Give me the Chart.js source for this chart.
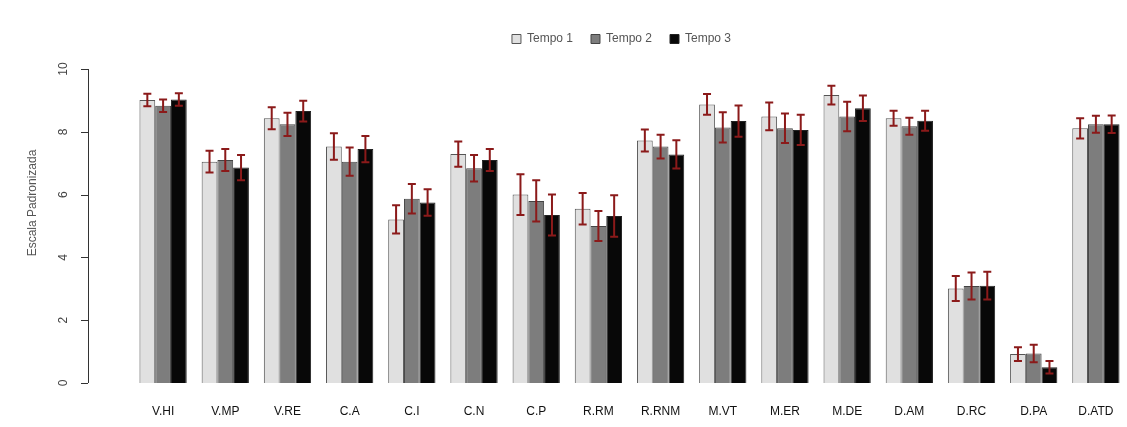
<!DOCTYPE html>
<html>
<head>
<meta charset="utf-8">
<script src="https://cdn.jsdelivr.net/npm/chart.js@4/dist/chart.umd.min.js"></script>
<style>
  html, body { margin: 0; padding: 0; background: #fff; }
  #wrap { position: relative; width: 1127px; height: 427px; }
</style>
</head>
<body>
<div id="wrap"><canvas id="c"></canvas></div>
<script>
const categories = ['V.HI', 'V.MP', 'V.RE', 'C.A', 'C.I', 'C.N', 'C.P', 'R.RM', 'R.RNM',
  'M.VT', 'M.ER', 'M.DE', 'D.AM', 'D.RC', 'D.PA', 'D.ATD'];

const tempo1 = [9.01, 7.05, 8.43, 7.53, 5.21, 7.29, 6.00, 5.55, 7.72, 8.87, 8.49, 9.17, 8.43, 3.01, 0.92, 8.11];
const tempo2 = [8.83, 7.10, 8.24, 7.05, 5.87, 6.84, 5.80, 5.00, 7.53, 8.14, 8.11, 8.49, 8.18, 3.09, 0.94, 8.24];
const tempo3 = [9.03, 6.86, 8.66, 7.45, 5.75, 7.10, 5.35, 5.32, 7.28, 8.34, 8.06, 8.75, 8.35, 3.10, 0.50, 8.24];

// half-length of the error bars
const err1 = [0.20, 0.35, 0.35, 0.42, 0.45, 0.40, 0.65, 0.50, 0.35, 0.33, 0.44, 0.30, 0.24, 0.40, 0.22, 0.32];
const err2 = [0.20, 0.35, 0.37, 0.45, 0.47, 0.42, 0.66, 0.48, 0.38, 0.48, 0.47, 0.47, 0.27, 0.43, 0.28, 0.27];
const err3 = [0.20, 0.40, 0.33, 0.42, 0.42, 0.35, 0.65, 0.66, 0.45, 0.50, 0.48, 0.41, 0.32, 0.44, 0.20, 0.28];

const yTicks = [0, 2, 4, 6, 8, 10];
const errors = [err1, err2, err3];
const FONT = '"Liberation Sans", Arial, sans-serif';

const errorBars = {
  id: 'errorBars',
  afterDatasetsDraw(chart) {
    const ctx = chart.ctx;
    const y = chart.scales.y;
    ctx.save();
    ctx.strokeStyle = '#8b1a1a';
    ctx.lineWidth = 2;
    chart.data.datasets.forEach((ds, i) => {
      const meta = chart.getDatasetMeta(i);
      meta.data.forEach((bar, j) => {
        const v = ds.data[j], e = errors[i][j];
        const top = y.getPixelForValue(v + e);
        const bot = y.getPixelForValue(v - e);
        ctx.beginPath();
        ctx.moveTo(bar.x, top); ctx.lineTo(bar.x, bot);
        ctx.moveTo(bar.x - 4, top); ctx.lineTo(bar.x + 4, top);
        ctx.moveTo(bar.x - 4, bot); ctx.lineTo(bar.x + 4, bot);
        ctx.stroke();
      });
    });
    ctx.restore();
  }
};

// legend: extra space below it and shifted right like the R legend
const legendTweak = {
  id: 'legendTweak',
  afterInit(chart) {
    const lg = chart.legend;
    const fit = lg.fit.bind(lg);
    lg.fit = function () { fit(); this.height += 14; };
  },
  afterLayout(chart) {
    chart.legend.left += 58;
    chart.legend.right += 58;
  }
};

// R style detached y axis with rotated labels
const rAxis = {
  id: 'rAxis',
  afterDraw(chart) {
    const ctx = chart.ctx;
    const y = chart.scales.y;
    const ax = 88;
    ctx.save();
    ctx.strokeStyle = '#333';
    ctx.lineWidth = 1;
    ctx.beginPath();
    ctx.moveTo(ax + 0.5, y.getPixelForValue(0));
    ctx.lineTo(ax + 0.5, y.getPixelForValue(10));
    yTicks.forEach(t => {
      const py = Math.round(y.getPixelForValue(t)) + 0.5;
      ctx.moveTo(ax, py); ctx.lineTo(ax - 7, py);
    });
    ctx.stroke();
    ctx.fillStyle = '#444';
    ctx.font = '12px ' + FONT;
    ctx.textAlign = 'center';
    ctx.textBaseline = 'middle';
    yTicks.forEach(t => {
      ctx.save();
      ctx.translate(64, y.getPixelForValue(t));
      ctx.rotate(-Math.PI / 2);
      ctx.fillText(String(t), 0, 0);
      ctx.restore();
    });
    ctx.save();
    ctx.fillStyle = '#555';
    ctx.translate(33, 203);
    ctx.rotate(-Math.PI / 2);
    ctx.fillText('Escala Padronizada', 0, 0);
    ctx.restore();
    ctx.restore();
  }
};

new Chart(document.getElementById('c'), {
  type: 'bar',
  data: {
    labels: categories,
    datasets: [
      { label: 'Tempo 1', data: tempo1, backgroundColor: '#e0e0e0', borderColor: '#555', borderWidth: 1 },
      { label: 'Tempo 2', data: tempo2, backgroundColor: '#7d7d7d', borderColor: '#444', borderWidth: 1 },
      { label: 'Tempo 3', data: tempo3, backgroundColor: '#080808', borderColor: '#222', borderWidth: 1 }
    ]
  },
  options: {
    responsive: true,
    maintainAspectRatio: false,
    animation: false,
    layout: { padding: { top: 15, right: 0, left: 0, bottom: 0 } },
    datasets: { bar: { categoryPercentage: 0.76, barPercentage: 1.0 } },
    plugins: {
      legend: {
        display: true,
        position: 'top',
        labels: {
          boxWidth: 9,
          boxHeight: 9,
          padding: 18,
          color: '#555',
          font: { family: FONT, size: 12 }
        }
      },
      tooltip: { enabled: false }
    },
    scales: {
      x: {
        grid: { display: false },
        border: { display: false },
        ticks: { color: '#111', padding: 13, font: { family: FONT, size: 12 } },
        afterFit(scale) { scale.height = 44; }
      },
      y: {
        min: 0,
        max: 10,
        grid: { display: false },
        border: { display: false },
        ticks: { display: false },
        afterFit(scale) { scale.width = 132; }
      }
    }
  },
  plugins: [errorBars, legendTweak, rAxis]
});
</script>
</body>
</html>
